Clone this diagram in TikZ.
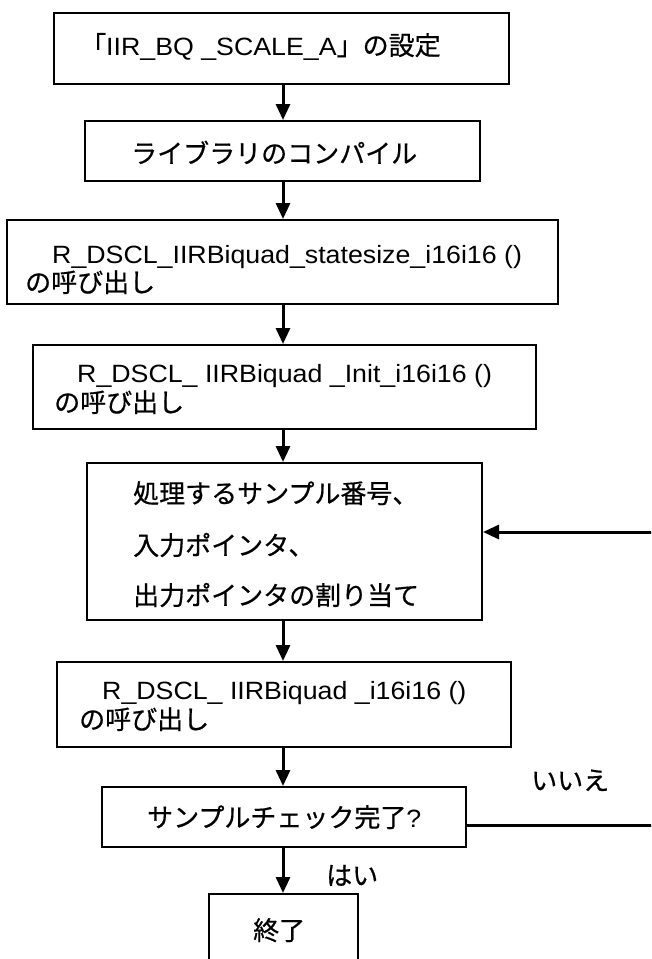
\documentclass[tikz,border=0pt]{standalone}
\usepackage{fontspec}
\usetikzlibrary{arrows.meta}
\newfontfamily\jpf{Noto Sans CJK JP}[FakeBold=0.6]
\newfontfamily\ltf{Liberation Sans}[FakeStretch=1.07]
\newcommand\jt[1]{{\jpf\fontsize{26}{30}\selectfont #1}}
\newcommand\lt[1]{{\ltf\fontsize{25}{30}\selectfont #1}}
\tikzset{
  box/.style={draw, line width=2pt, inner sep=0pt},
  txt/.style={anchor=base west, inner sep=0pt},
  flow/.style={line width=3pt, -{Triangle[length=16pt,width=14pt]}},
  plain/.style={line width=3pt}
}
\begin{document}
\begin{tikzpicture}[x=1pt,y=1pt]
\useasboundingbox (0,0) rectangle (651,-959);
\clip (0,0) rectangle (651,-959);
\fill[white] (0,0) rectangle (651,-959);
% boxes (x: left..right, y: top..bottom)
\node[box, minimum width=455pt, minimum height=71pt] (b1) at (281.5,-48.5) {};
\node[box, minimum width=395pt, minimum height=60pt] (b2) at (282.5,-151) {};
\node[box, minimum width=551pt, minimum height=84pt] (b3) at (282.5,-262) {};
\node[box, minimum width=503pt, minimum height=84pt] (b4) at (284.5,-387) {};
\node[box, minimum width=395pt, minimum height=157pt] (b5) at (284.5,-541.5) {};
\node[box, minimum width=454pt, minimum height=85pt] (b6) at (284,-704.5) {};
\node[box, minimum width=364pt, minimum height=60pt] (b7) at (284,-817) {};
\node[box, minimum width=149pt, minimum height=80pt] (b8) at (283.5,-934) {};
% texts
\node[txt] (t1) at (80,-55) {\jt{「}\lt{IIR\_BQ \_SCALE\_A}\jt{」の設定}};
\node[txt] (t2) at (131,-163) {\jt{ライブラリのコンパイル}};
\node[txt] (t3a) at (52,-263) {\lt{R\_DSCL\_IIRBiquad\_statesize\_i16i16 ()}};
\node[txt] (t3b) at (25,-292) {\jt{の呼び出し}};
\node[txt] (t4a) at (77,-382) {\lt{R\_DSCL\_ IIRBiquad \_Init\_i16i16 ()}};
\node[txt] (t4b) at (54,-412) {\jt{の呼び出し}};
\node[txt] (t5a) at (133,-503) {\jt{処理するサンプル番号、}};
\node[txt] (t5b) at (133,-555) {\jt{入力ポインタ、}};
\node[txt] (t5c) at (133,-605) {\jt{出力ポインタの割り当て}};
\node[txt] (t6a) at (102,-699) {\lt{R\_DSCL\_ IIRBiquad \_i16i16 ()}};
\node[txt] (t6b) at (79,-729) {\jt{の呼び出し}};
\node[txt] (t7) at (147,-827) {\jt{サンプルチェック完了}\lt{?}};
\node[txt] (t8) at (253,-940) {\jt{終了}};
\node[txt] (no) at (531,-790) {\jt{いいえ}};
\node[txt] (yes) at (326,-885) {\jt{はい}};
% connectors
\coordinate (ax) at (283,0);
\coordinate (edgeA) at (652,-532);
\coordinate (edgeB) at (652,-825);
\draw[flow] (b1.south -| ax) -- (b2.north -| ax);
\draw[flow] (b2.south -| ax) -- (b3.north -| ax);
\draw[flow] (b3.south -| ax) -- (b4.north -| ax);
\draw[flow] (b4.south -| ax) -- (b5.north -| ax);
\draw[flow] (b5.south -| ax) -- (b6.north -| ax);
\draw[flow] (b6.south -| ax) -- (b7.north -| ax);
\draw[flow] (b7.south -| ax) -- (b8.north -| ax);
\draw[plain] (b7.east |- edgeB) -- (edgeB);
\draw[flow] (edgeA) -- (edgeA -| b5.east);
\end{tikzpicture}
\end{document}
